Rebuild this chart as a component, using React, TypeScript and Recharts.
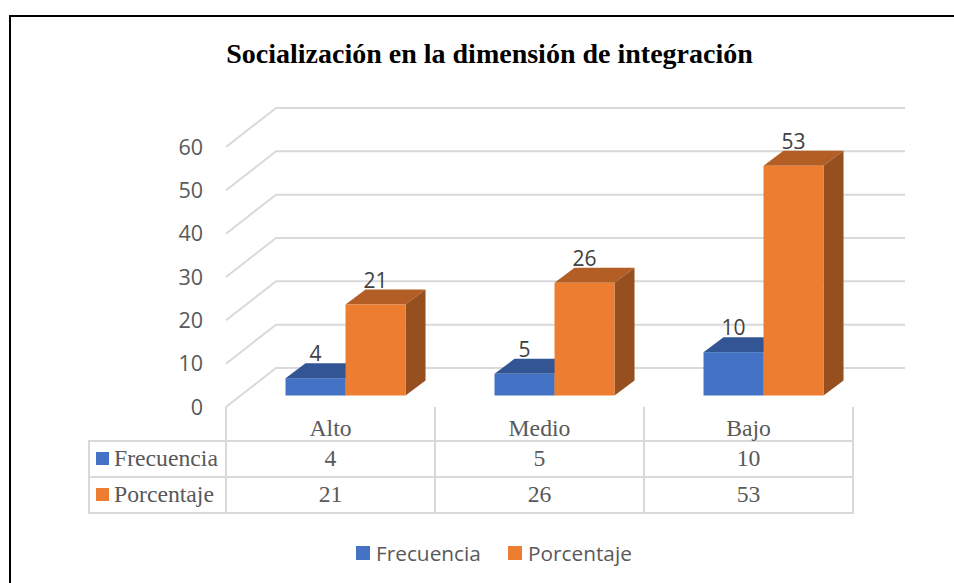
import { BarChart, Bar, XAxis, YAxis, CartesianGrid, Legend } from "recharts";

const categories = ["Alto", "Medio", "Bajo"];
const frecuencia = [4, 5, 10];
const porcentaje = [21, 26, 53];
const yTicks = [0, 10, 20, 30, 40, 50, 60];

const chartData = categories.map((name, i) => ({
  name,
  Frecuencia: frecuencia[i],
  Porcentaje: porcentaje[i],
}));

const serif = "'Liberation Serif', 'Times New Roman', serif";
const sans = "'Open Sans', sans-serif";
const lineColor = "#d9d9d9";
const textColor = "#595959";

const blue = { front: "#4472c4", top: "#335593", side: "#2f5290" };
const orange = { front: "#ed7d31", top: "#b35e25", side: "#964f1e" };

// fake 3D: bars sit mid-way through the floor, wall is behind
const barShift = { x: 15, y: -11.5 };
const barDepth = { x: 20, y: -15 };
const wall = { x: 50, y: -39 };

function Bar3D({ x, y, width, height, colors }: any) {
  const left = x + barShift.x;
  const top = y + barShift.y;
  const right = left + width;
  const bottom = top + height;
  const dx = barDepth.x;
  const dy = barDepth.y;
  return (
    <g>
      <path d={`M${left},${top} L${left + dx},${top + dy} L${right + dx},${top + dy} L${right},${top} Z`} fill={colors.top} />
      <path d={`M${right},${top} L${right + dx},${top + dy} L${right + dx},${bottom + dy} L${right},${bottom} Z`} fill={colors.side} />
      <rect x={left} y={top} width={width} height={height} fill={colors.front} />
    </g>
  );
}

function BarValue({ x, y, width, value }: any) {
  return (
    <text
      x={x + barShift.x + width / 2}
      y={y + barShift.y - 25}
      textAnchor="middle"
      dominantBaseline="central"
      fontFamily={sans}
      fontSize={21}
      fill="#404040"
    >
      {value}
    </text>
  );
}

function WallLine({ x1, x2, y1 }: any) {
  return (
    <path
      d={`M${x1},${y1} L${x1 + wall.x},${y1 + wall.y} L${x2 + wall.x + 2},${y1 + wall.y}`}
      fill="none"
      stroke={lineColor}
      strokeWidth={2}
    />
  );
}

// category label plus the two data table cells under it
function TableTick({ x, payload, index }: any) {
  const half = 104.5;
  const cell = { fontFamily: serif, fontSize: 23.7, fill: textColor, textAnchor: "middle" as const };
  return (
    <g>
      <line x1={x - half} x2={x - half} y1={407} y2={513} stroke={lineColor} strokeWidth={2} />
      <line x1={x + half} x2={x + half} y1={407} y2={513} stroke={lineColor} strokeWidth={2} />
      <text x={x} y={436} {...cell}>{payload.value}</text>
      <text x={x} y={466} {...cell}>{frecuencia[index]}</text>
      <text x={x} y={502} {...cell}>{porcentaje[index]}</text>
    </g>
  );
}

function LegendBox({ payload }: any) {
  const lefts = [356, 508];
  return (
    <div style={{ position: "relative", width: 954, height: 30 }}>
      {(payload || []).map((p: any, i: number) => (
        <div key={p.value} style={{ position: "absolute", left: lefts[i], top: 0, display: "flex", alignItems: "center", height: 30 }}>
          <span style={{ width: 14, height: 14, background: p.color, marginRight: 6, display: "inline-block" }} />
          <span style={{ fontFamily: sans, fontSize: 20.8, color: textColor }}>{p.value}</span>
        </div>
      ))}
    </div>
  );
}

export default function App() {
  return (
    <div style={{ position: "absolute", left: 0, top: 0, width: 954, height: 583, overflow: "hidden", background: "#fff" }}>
      <div style={{ position: "absolute", left: 9, top: 15, width: 1200, height: 800, border: "2px solid #000" }} />
      <div style={{ position: "absolute", left: 0, top: 0 }}>
        <BarChart
          width={954}
          height={583}
          data={chartData}
          margin={{ top: 147, right: 101, bottom: 86, left: 166 }}
          barCategoryGap="21.3%"
          barGap={0}
        >
          <text x={489.5} y={63} textAnchor="middle" fontFamily={serif} fontWeight="bold" fontSize={28} fill="#000">
            Socialización en la dimensión de integración
          </text>
          <CartesianGrid vertical={false} horizontal={(p: any) => <WallLine key={p.y1} {...p} />} />
          <XAxis dataKey="name" height={60} axisLine={false} tickLine={false} interval={0} tick={(p: any) => <TableTick {...p} />} />
          <YAxis
            width={60}
            domain={[0, 60]}
            ticks={yTicks}
            axisLine={false}
            tickLine={false}
            tickMargin={17}
            tick={{ fontFamily: sans, fontSize: 21.5, fill: textColor }}
          />
          <Legend content={<LegendBox />} wrapperStyle={{ left: 0, top: 538, width: 954, height: 30 }} />
          <Bar
            dataKey="Frecuencia"
            fill={blue.front}
            isAnimationActive={false}
            shape={(p: any) => <Bar3D {...p} colors={blue} />}
            label={(p: any) => <BarValue key={p.index} {...p} />}
          />
          <Bar
            dataKey="Porcentaje"
            fill={orange.front}
            isAnimationActive={false}
            shape={(p: any) => <Bar3D {...p} colors={orange} />}
            label={(p: any) => <BarValue key={p.index} {...p} />}
          />
          <g>
            <line x1={89} x2={854} y1={441} y2={441} stroke={lineColor} strokeWidth={2} />
            <line x1={89} x2={854} y1={477} y2={477} stroke={lineColor} strokeWidth={2} />
            <line x1={89} x2={854} y1={513} y2={513} stroke={lineColor} strokeWidth={2} />
            <line x1={89} x2={89} y1={440} y2={514} stroke={lineColor} strokeWidth={2} />
            <rect x={96} y={452} width={13} height={13} fill={blue.front} />
            <rect x={96} y={488} width={13} height={13} fill={orange.front} />
            <text x={114} y={466} fontFamily={serif} fontSize={23.7} fill={textColor}>Frecuencia</text>
            <text x={114} y={502} fontFamily={serif} fontSize={23.7} fill={textColor}>Porcentaje</text>
          </g>
        </BarChart>
      </div>
    </div>
  );
}
